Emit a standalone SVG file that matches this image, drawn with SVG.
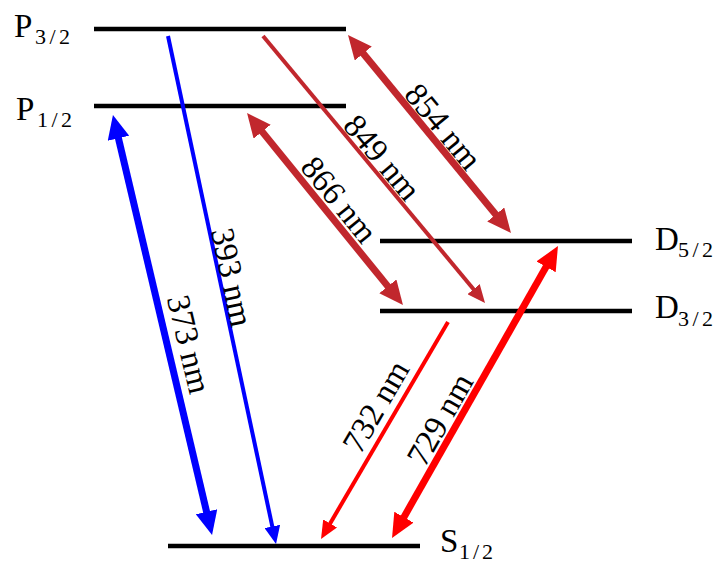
<svg xmlns="http://www.w3.org/2000/svg" width="716" height="564" viewBox="0 0 716 564">
<style>
.lvl{stroke:#000;stroke-width:4.5;fill:none}
.big{font-family:"Liberation Serif",serif;font-size:33px;fill:#000}
.sub{font-family:"Liberation Serif",serif;font-size:22px;fill:#000}
.wl{font-family:"Liberation Serif",serif;font-size:33px;fill:#000;text-anchor:middle}
.thick{stroke-width:7;fill:none}
.thin{stroke-width:4;fill:none}
.blue{stroke:#0000FF}
.brown{stroke:#C1272D}
.red{stroke:#FF0000}
</style>
<defs>
<marker id="hbB" markerUnits="userSpaceOnUse" markerWidth="24" markerHeight="22" viewBox="0 0 24 22" refX="2" refY="11" orient="auto-start-reverse"><path d="M0,0 L24,11 L0,22 z" fill="#0000FF"/></marker>
<marker id="hnB" markerUnits="userSpaceOnUse" markerWidth="18" markerHeight="16" viewBox="0 0 18 16" refX="2" refY="8" orient="auto-start-reverse"><path d="M0,0 L18,8 L0,16 z" fill="#0000FF"/></marker>
<marker id="hbW" markerUnits="userSpaceOnUse" markerWidth="24" markerHeight="22" viewBox="0 0 24 22" refX="2" refY="11" orient="auto-start-reverse"><path d="M0,0 L24,11 L0,22 z" fill="#C1272D"/></marker>
<marker id="hnW" markerUnits="userSpaceOnUse" markerWidth="18" markerHeight="16" viewBox="0 0 18 16" refX="2" refY="8" orient="auto-start-reverse"><path d="M0,0 L18,8 L0,16 z" fill="#C1272D"/></marker>
<marker id="hbR" markerUnits="userSpaceOnUse" markerWidth="24" markerHeight="22" viewBox="0 0 24 22" refX="2" refY="11" orient="auto-start-reverse"><path d="M0,0 L24,11 L0,22 z" fill="#FF0000"/></marker>
<marker id="hnR" markerUnits="userSpaceOnUse" markerWidth="18" markerHeight="16" viewBox="0 0 18 16" refX="2" refY="8" orient="auto-start-reverse"><path d="M0,0 L18,8 L0,16 z" fill="#FF0000"/></marker>
</defs>
<rect width="716" height="564" fill="#fff"/>

<g id="P32">
<line class="lvl" x1="94" y1="29" x2="346" y2="29"/>
<text class="big" x="14" y="37">P</text><text class="sub" x="35" y="44" textLength="35">3/2</text>
</g>
<g id="P12">
<line class="lvl" x1="94" y1="106" x2="346" y2="106"/>
<text class="big" x="16" y="120">P</text><text class="sub" x="37" y="127" textLength="35">1/2</text>
</g>
<g id="D52">
<line class="lvl" x1="380" y1="241" x2="632" y2="241"/>
<text class="big" x="655" y="250">D</text><text class="sub" x="678" y="257" textLength="35">5/2</text>
</g>
<g id="D32">
<line class="lvl" x1="380" y1="311" x2="632" y2="311"/>
<text class="big" x="655" y="318">D</text><text class="sub" x="678" y="326" textLength="35">3/2</text>
</g>
<g id="S12">
<line class="lvl" x1="168" y1="546" x2="420" y2="546"/>
<text class="big" x="440" y="552">S</text><text class="sub" x="459" y="559" textLength="34">1/2</text>
</g>

<g id="connectors">
<line class="thick blue" x1="118" y1="136.4" x2="207" y2="513.6" marker-start="url(#hbB)" marker-end="url(#hbB)"/>
<line class="thin blue" x1="168" y1="36" x2="272.7" y2="528.4" marker-end="url(#hnB)"/>
<line class="thin brown" x1="263" y1="36" x2="474.8" y2="290.7" marker-end="url(#hnW)"/>
<line class="thick brown" x1="362" y1="52" x2="497" y2="216" marker-start="url(#hbW)" marker-end="url(#hbW)"/>
<line class="thick brown" x1="260.9" y1="130.1" x2="389.1" y2="287.9" marker-start="url(#hbW)" marker-end="url(#hbW)"/>
<line class="thin red" x1="448" y1="322" x2="329.1" y2="525.2" marker-end="url(#hnR)"/>
<line class="thick red" x1="547.1" y1="265.1" x2="402.9" y2="518.9" marker-start="url(#hbR)" marker-end="url(#hbR)"/>
</g>

<g id="labels">
<text class="wl" transform="translate(444,126) rotate(50.5)" y="12">854 nm</text>
<text class="wl" transform="translate(383,157) rotate(50.3)" y="12">849 nm</text>
<text class="wl" transform="translate(340,199) rotate(51)" y="12">866 nm</text>
<text class="wl" transform="translate(233,277) rotate(78)" y="12">393 nm</text>
<text class="wl" transform="translate(190,344) rotate(76.7)" y="12">373 nm</text>
<text class="wl" transform="translate(375,406) rotate(-59.8)" y="12">732 nm</text>
<text class="wl" transform="translate(439,419) rotate(-60.3)" y="12">729 nm</text>
</g>
</svg>
